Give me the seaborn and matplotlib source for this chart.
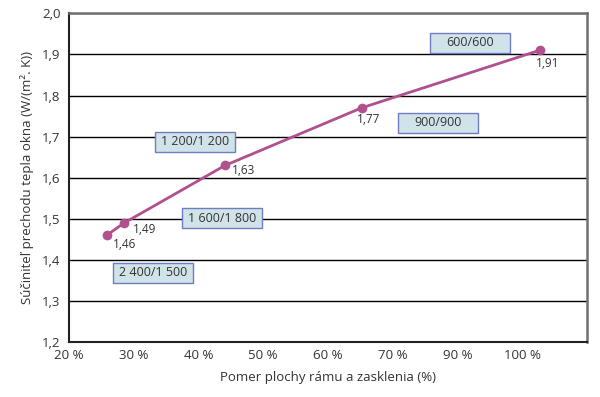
import matplotlib
matplotlib.use("Agg")
import matplotlib.pyplot as plt
from matplotlib.patches import Rectangle
import seaborn as sns
import pandas as pd

# Data (x in axis units, where the axis ticks are labelled unevenly)
x_vals = [25.8, 28.5, 44.1, 65.2, 92.7]
u_vals = [1.46, 1.49, 1.63, 1.77, 1.91]
val_labels = ["1,46", "1,49", "1,63", "1,77", "1,91"]

box_texts = ["2 400/1 500", "1 600/1 800", "1 200/1 200", "900/900", "600/600"]
box_x = [33.0, 43.6, 39.5, 77.0, 81.9]
box_y = [1.369, 1.502, 1.688, 1.734, 1.928]

xtick_pos = [20, 30, 40, 50, 60, 70, 80, 90, 100]
xtick_labels = ["20 %", "30 %", "40 %", "50 %", "60 %", "70 %", "90 %", "100 %", ""]
ytick_pos = [1.2, 1.3, 1.4, 1.5, 1.6, 1.7, 1.8, 1.9, 2.0]
ytick_labels = ["1,2", "1,3", "1,4", "1,5", "1,6", "1,7", "1,8", "1,9", "2,0"]

sns.set_style("white")
plt.rcParams['font.family'] = ['Open Sans', 'DejaVu Sans']

fig = plt.figure(figsize=(6.0, 3.97), dpi=100)
ax = fig.add_axes([0.115, 0.1378, 0.863, 0.8287])

df = pd.DataFrame({"x": x_vals, "u": u_vals})
line_color = "#b0508f"
sns.lineplot(data=df, x="x", y="u", ax=ax, color=line_color, lw=2,
             marker="o", markersize=7, markeredgewidth=0, zorder=4)

ax.set_xlim(20, 100)
ax.set_ylim(1.2, 2.0)
ax.set_xticks(xtick_pos)
ax.set_xticklabels(xtick_labels)
ax.set_yticks(ytick_pos)
ax.set_yticklabels(ytick_labels)

ax.yaxis.grid(True, color="black", lw=1)
ax.set_axisbelow(True)
ax.tick_params(axis="both", which="both", direction="out", length=4, width=1,
               color="#222222", labelsize=9.5, labelcolor="#333333", pad=1)
ax.tick_params(axis="y", length=4, pad=2)

for side in ["left", "bottom"]:
    ax.spines[side].set_color("#222222")
    ax.spines[side].set_linewidth(1.5)
for side in ["top", "right"]:
    ax.spines[side].set_visible(True)
    ax.spines[side].set_color("#707070")
    ax.spines[side].set_linewidth(1.8)

ax.set_xlabel("Pomer plochy rámu a zasklenia (%)", fontsize=9.5, color="#333333", labelpad=6)
ax.set_ylabel("Súčiniteľ prechodu tepla okna (W/(m². K))", fontsize=9.5, color="#333333", labelpad=6)

offsets = [(6, -9), (9, -6), (7, -5), (-5, -12), (-4, -13)]
for xv, yv, lab, off in zip(x_vals, u_vals, val_labels, offsets):
    ax.annotate(lab, (xv, yv), xytext=off, textcoords="offset pixels",
                ha="left", va="center", fontsize=8.5, color="#333333", zorder=5)

# label boxes: fixed-size framed rectangles centred on the label anchor
box_w_px, box_h_px = 80, 20
for t, bx, by in zip(box_texts, box_x, box_y):
    ax.text(bx, by, t, ha="center", va="center", fontsize=9, color="#333333", zorder=7)
    cx, cy = ax.transData.transform((bx, by))
    (x0, y0) = ax.transData.inverted().transform((cx - box_w_px / 2, cy - box_h_px / 2))
    (x1, y1) = ax.transData.inverted().transform((cx + box_w_px / 2, cy + box_h_px / 2))
    ax.add_patch(Rectangle((x0, y0), x1 - x0, y1 - y0, facecolor="#cfe3e8",
                           edgecolor="#6f7cc0", lw=1, zorder=6))

fig.savefig("out.png", dpi=100)
